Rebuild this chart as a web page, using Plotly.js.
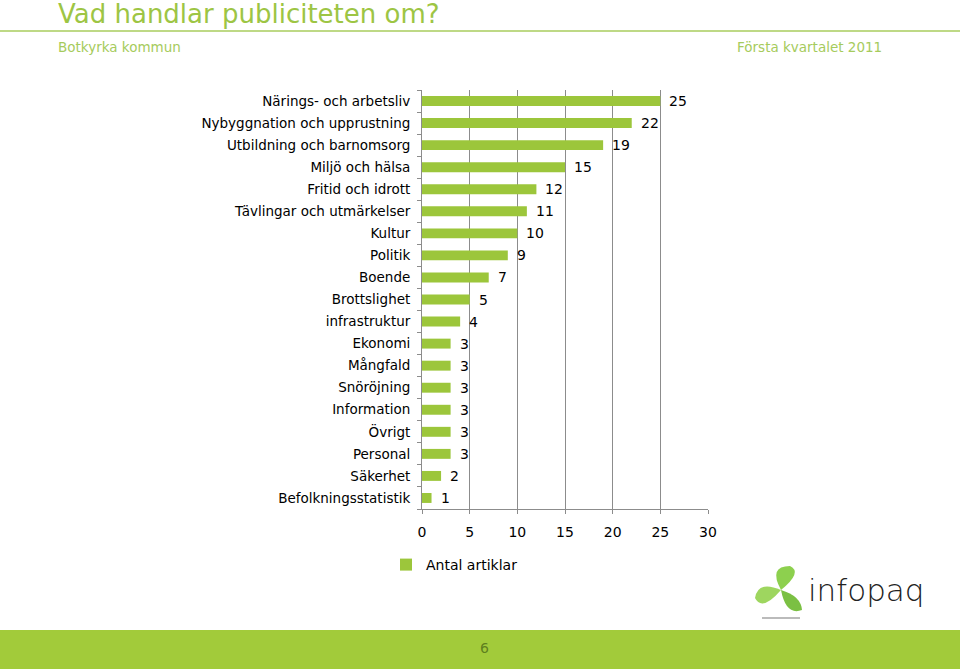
<!DOCTYPE html>
<html>
<head>
<meta charset="utf-8">
<script src="https://cdn.plot.ly/plotly-3.0.1.min.js"></script>
<style>html,body{margin:0;padding:0;background:#fff;}#chart{width:960px;height:669px;}</style>
</head>
<body>
<div id="chart"></div>
<script>
// ---- data ----
const categories = [
  "Närings- och arbetsliv",
  "Nybyggnation och upprustning",
  "Utbildning och barnomsorg",
  "Miljö och hälsa",
  "Fritid och idrott",
  "Tävlingar och utmärkelser",
  "Kultur",
  "Politik",
  "Boende",
  "Brottslighet",
  "infrastruktur",
  "Ekonomi",
  "Mångfald",
  "Snöröjning",
  "Information",
  "Övrigt",
  "Personal",
  "Säkerhet",
  "Befolkningsstatistik"
];
const values = [25, 22, 19, 15, 12, 11, 10, 9, 7, 5, 4, 3, 3, 3, 3, 3, 3, 2, 1];
const seriesName = "Antal artiklar";
const xTicks = [0, 5, 10, 15, 20, 25, 30];
const titleText = "Vad handlar publiciteten om?";
const subLeft = "Botkyrka kommun";
const subRight = "Första kvartalet 2011";
const pageNumber = "6";

// ---- geometry helpers (pixel -> paper) ----
const L = 422, R = 708, T = 90, B = 509;
const W = R - L, H = B - T;
const X = px => (px - L) / W;
const Y = py => (B - py) / H;

const green = "#9CC63B";
const font = "DejaVu Sans, Verdana, sans-serif";

const trace = {
  type: "bar",
  orientation: "h",
  x: values,
  y: categories,
  name: seriesName,
  marker: {color: green},
  hoverinfo: "x+y",
  showlegend: true
};

const valueAnnotations = values.map((v, i) => ({
  x: v, y: categories[i], xref: "x", yref: "y",
  text: String(v), showarrow: false, xanchor: "left", xshift: 7,
  font: {family: font, size: 14, color: "#000"}
}));

const annotations = valueAnnotations.concat([
  {xref: "paper", yref: "paper", x: X(56), y: Y(14), text: titleText, showarrow: false,
   xanchor: "left", yanchor: "middle", font: {family: font, size: 26, color: "#9DC544"}},
  {xref: "paper", yref: "paper", x: X(56), y: Y(47), text: subLeft, showarrow: false,
   xanchor: "left", yanchor: "middle", font: {family: font, size: 13.5, color: "#A6CB5C"}},
  {xref: "paper", yref: "paper", x: X(884), y: Y(47), text: subRight, showarrow: false,
   xanchor: "right", yanchor: "middle", font: {family: font, size: 13.5, color: "#A6CB5C"}},
  {xref: "paper", yref: "paper", x: X(484), y: Y(648), text: pageNumber, showarrow: false,
   xanchor: "center", yanchor: "middle", font: {family: font, size: 14, color: "#5E7F1E"}},
  {xref: "paper", yref: "paper", x: X(806), y: Y(590), text: "infopaq", showarrow: false,
   xanchor: "left", yanchor: "middle", font: {family: "DejaVu Sans, sans-serif", size: 31, color: "#222", weight: 300}}
]);

const shapes = [
  // header rule
  {type: "line", xref: "paper", yref: "paper", x0: X(0), x1: X(960), y0: Y(31), y1: Y(31),
   line: {color: "#A9CD5E", width: 1.5}},
  // footer band
  {type: "rect", xref: "paper", yref: "paper", x0: X(0), x1: X(960), y0: Y(669), y1: Y(630),
   line: {width: 0}, fillcolor: "#A2CB3A", layer: "below"},
  // logo petals
  {type: "path", xref: "paper", yref: "paper",
   path: `M ${X(781)} ${Y(590)} Q ${X(768)} ${Y(566)} ${X(790)} ${Y(566)} Q ${X(803)} ${Y(572)} ${X(781)} ${Y(590)} Z`,
   fillcolor: "#8DD04E", line: {width: 0}},
  {type: "path", xref: "paper", yref: "paper",
   path: `M ${X(781)} ${Y(590)} Q ${X(758)} ${Y(580)} ${X(755)} ${Y(598)} Q ${X(762)} ${Y(612)} ${X(781)} ${Y(590)} Z`,
   fillcolor: "#9ED65F", line: {width: 0}},
  {type: "path", xref: "paper", yref: "paper",
   path: `M ${X(781)} ${Y(590)} Q ${X(801)} ${Y(596)} ${X(802)} ${Y(610)} Q ${X(786)} ${Y(616)} ${X(781)} ${Y(590)} Z`,
   fillcolor: "#7BC043", line: {width: 0}},
  {type: "line", xref: "paper", yref: "paper", x0: X(762), x1: X(800), y0: Y(618), y1: Y(618),
   line: {color: "#bbb", width: 2}}
];

const layout = {
  width: 960, height: 669,
  margin: {l: L, r: 960 - R, t: T, b: 669 - B, pad: 0},
  paper_bgcolor: "#fff", plot_bgcolor: "#fff",
  font: {family: font, size: 13.5, color: "#000"},
  bargap: 0.55,
  showlegend: true,
  legend: {orientation: "h", x: X(386), y: Y(565), xanchor: "left", yanchor: "middle",
           font: {family: font, size: 14, color: "#000"}, itemwidth: 30, bgcolor: "rgba(0,0,0,0)"},
  xaxis: {
    range: [0, 30], tickvals: xTicks, ticktext: xTicks.map(String),
    showgrid: true, gridcolor: "#8C8C8C", gridwidth: 1,
    zeroline: false, showline: true, linecolor: "#8C8C8C", linewidth: 1,
    ticks: "outside", ticklen: 4, tickcolor: "#8C8C8C", ticklabelstandoff: 6,
    tickfont: {family: font, size: 14, color: "#000"}, fixedrange: true
  },
  yaxis: {
    type: "category", categoryorder: "array", categoryarray: categories.slice().reverse(),
    autorange: false, range: [-0.5, categories.length - 0.5],
    showgrid: false, zeroline: false, showline: true, linecolor: "#8C8C8C", linewidth: 1,
    ticks: "outside", tickson: "boundaries", ticklen: 4, tickcolor: "#8C8C8C",
    ticklabelstandoff: 8,
    tickfont: {family: font, size: 13.5, color: "#000"}, fixedrange: true
  },
  annotations: annotations,
  shapes: shapes
};

Plotly.newPlot("chart", [trace], layout, {displayModeBar: false, staticPlot: true});
</script>
</body>
</html>
